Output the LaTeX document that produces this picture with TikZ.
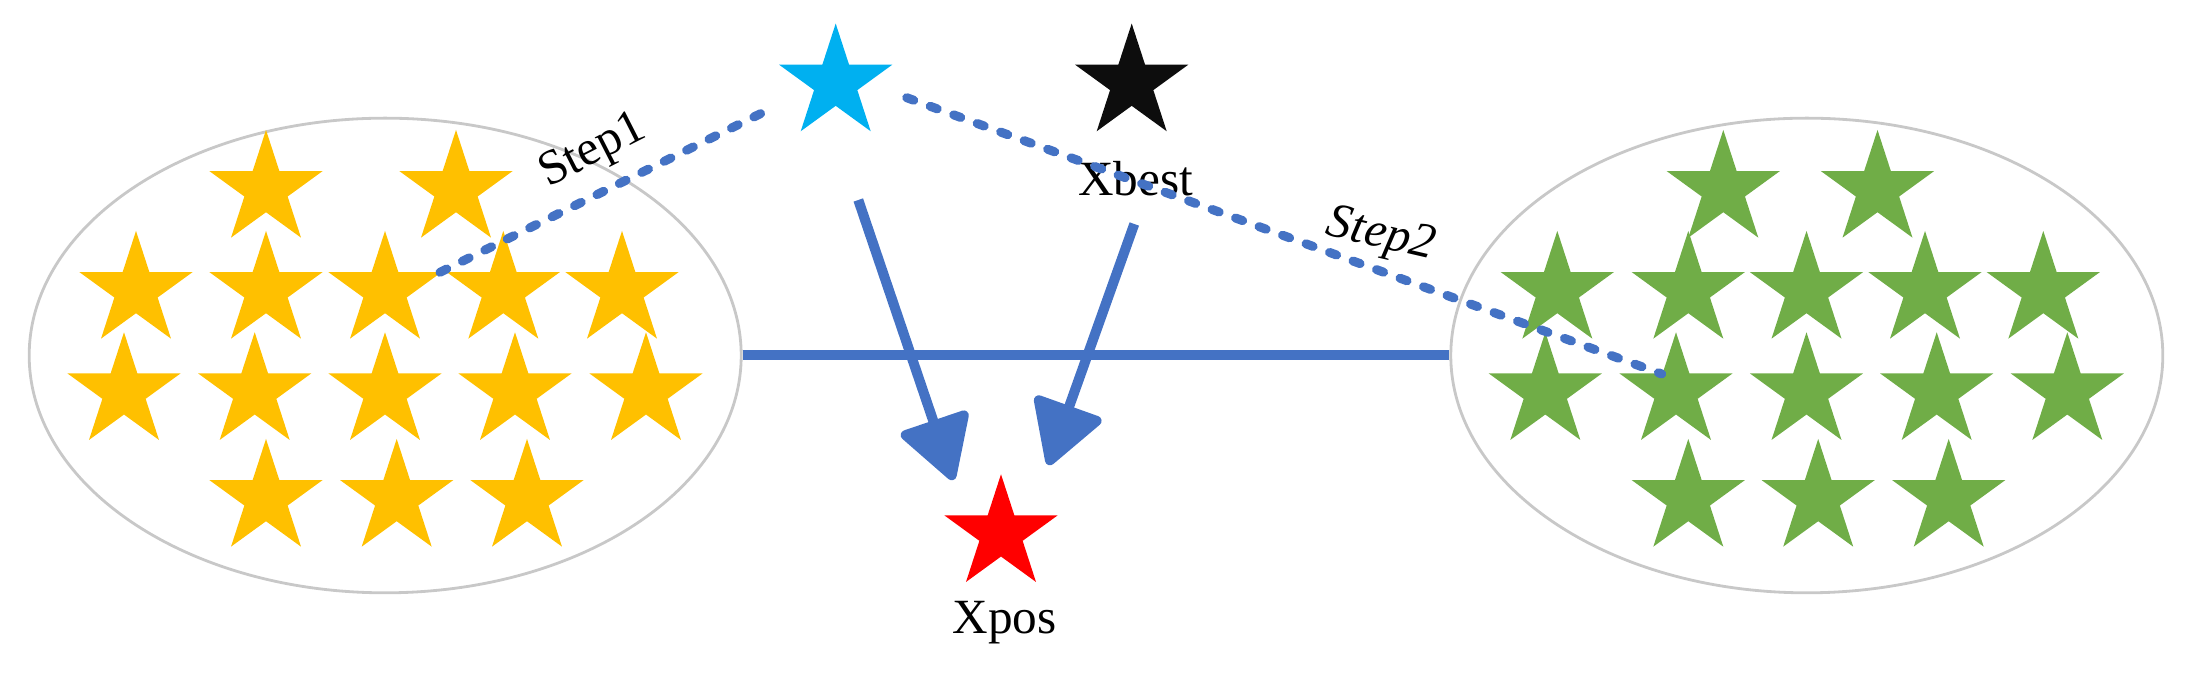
\documentclass[tikz,border=0pt]{standalone}
\usepackage{fontspec}
\setmainfont{Liberation Serif}
\usetikzlibrary{shapes.geometric,arrows.meta}
\definecolor{gold}{HTML}{FFC000}
\definecolor{leaf}{HTML}{70AD47}
\definecolor{ablue}{HTML}{4472C4}
\definecolor{sky}{HTML}{00B0F0}
\definecolor{nearblack}{HTML}{0D0D0D}
\definecolor{ringgray}{HTML}{C8C8C8}
\tikzset{
  starbase/.style={star, star points=5, star point ratio=2.618, minimum size=1.19cm, inner sep=0pt, outer sep=0pt, draw=none},
  ystar/.style={starbase, fill=gold},
  gstar/.style={starbase, fill=leaf},
  pop/.style={ellipse, draw=ringgray, line width=0.8pt, minimum width=7.116cm, minimum height=4.744cm, inner sep=0pt},
  link/.style={draw=ablue, line width=0.1cm},
  arrowlink/.style={link, -{Triangle[length=0.68cm,width=0.76cm,round]}},
  dots/.style={draw=ablue, line width=0.09cm, line cap=round, dash pattern=on 0.075cm off 0.175cm},
  lbl/.style={font=\fontsize{14}{16}\selectfont, inner sep=0pt},
}
\begin{document}
\begin{tikzpicture}[x=0.01cm,y=-0.01cm]
\useasboundingbox (0,0) rectangle (2187,674);
% populations
\node[pop] (popL) at (385.2,355.5) {};
\node[pop] (popR) at (1806.8,355.5) {};
% yellow stars
\foreach \x [count=\i] in {266,456} \node[ystar] (ya\i) at (\x,189.5) {};
\foreach \x [count=\i] in {136,266,385,503.3,622} \node[ystar] (yb\i) at (\x,290.5) {};
\foreach \x [count=\i] in {124,254.7,385,515,646} \node[ystar] (yc\i) at (\x,391.8) {};
\foreach \x [count=\i] in {266,396.7,527} \node[ystar] (yd\i) at (\x,498.5) {};
% green stars
\foreach \x [count=\i] in {1723.3,1877.5} \node[gstar] (ga\i) at (\x,189.5) {};
\foreach \x [count=\i] in {1557.3,1688.3,1806.5,1925,2043.3} \node[gstar] (gb\i) at (\x,290.5) {};
\foreach \x [count=\i] in {1545.3,1676,1806.5,1936.7,2067.3} \node[gstar] (gc\i) at (\x,391.8) {};
\foreach \x [count=\i] in {1688.3,1818.2,1948.7} \node[gstar] (gd\i) at (\x,498.5) {};
% single stars
\node[starbase, fill=sky] (cur) at (835.7,83.1) {};
\node[starbase, fill=nearblack] (best) at (1131.7,83.1) {};
\node[starbase, fill=red] (pos) at (1001,533.8) {};
% labels
\node[lbl, anchor=base] (xbest) at (1135.5,196) {Xbest};
\node[lbl, anchor=base] (xpos) at (1004.8,633.3) {Xpos};
\node[lbl, anchor=base, rotate=27] (step1) at (598.3,162) {Step1};
\node[lbl, anchor=base, rotate=-13] (step2) at (1378,247) {\itshape Step2};
% connectors
\draw[link] (popL.east) -- (popR.west);
\coordinate (a1s) at (858.3,200);
\coordinate (a1e) at (953.3,480);
\coordinate (a2s) at (1134.3,224);
\coordinate (a2e) at (1048.3,465);
\draw[arrowlink] (a1s) -- (a1e);
\draw[arrowlink] (a2s) -- (a2e);
\coordinate (s1a) at (440,272.3);
\coordinate (s1b) at (763.3,112.3);
\coordinate (s2a) at (906.7,97.7);
\coordinate (s2b) at (1661.7,374);
\draw[dots] (s1a) -- (s1b);
\draw[dots] (s2a) -- (s2b);
\end{tikzpicture}
\end{document}
